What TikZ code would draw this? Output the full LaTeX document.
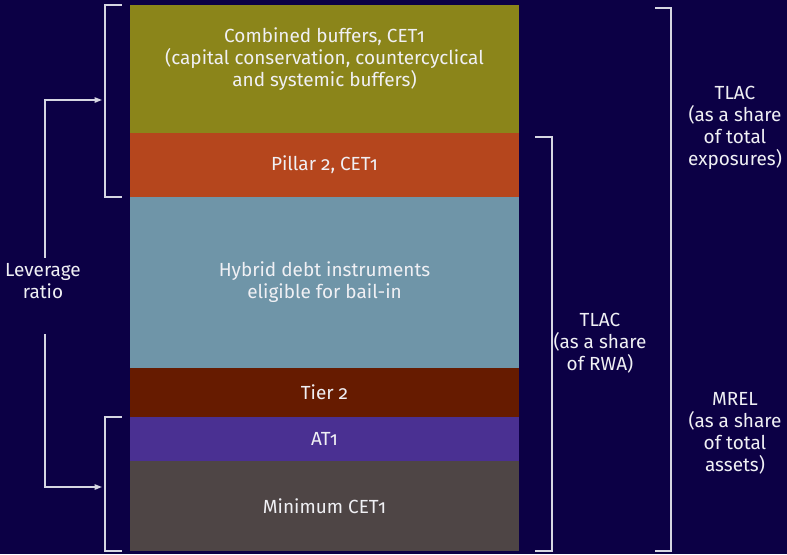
\documentclass[tikz,border=0pt]{standalone}
\usepackage{fontspec}
\setmainfont{Fira Sans}[Numbers=OldStyle]
\usetikzlibrary{arrows.meta,positioning}
\definecolor{ecbnavy}{RGB}{12,0,69}
\definecolor{cbolive}{RGB}{139,133,26}
\definecolor{ptorange}{RGB}{181,70,29}
\definecolor{hybblue}{RGB}{111,149,168}
\definecolor{tiered}{RGB}{102,27,0}
\definecolor{atpurple}{RGB}{74,48,146}
\definecolor{cetgrey}{RGB}{78,69,69}
\definecolor{brkgrey}{RGB}{214,214,226}
\definecolor{txtwhite}{RGB}{240,240,244}

\begin{document}
\begin{tikzpicture}[x=0.03cm,y=-0.03cm,font=\fontsize{16.2}{18.8}\selectfont,node distance=0pt,
    layer/.style={minimum width=11.67cm,inner sep=0pt,outer sep=0pt,align=center,text=txtwhite},
    lbl/.style={align=center,text=txtwhite},
    brk/.style={draw=brkgrey,line width=1.2pt},
    levarrow/.style={brk,-{Triangle[length=2.2mm,width=1.6mm]}}]
  \fill[ecbnavy] (0,0) rectangle (787,554);
  % capital stack
  \node[layer,fill=cbolive,minimum height=3.84cm] (cb) at (324.5,69) {};
  \node[lbl] (cbtext) at ([yshift=0.3cm]cb.center) {Combined buffers, CET1\\(capital conservation, countercyclical\\and systemic buffers)};
  \node[layer,fill=ptorange,minimum height=1.92cm,below=of cb] (p2) {Pillar 2, CET1};
  \node[layer,fill=hybblue,minimum height=5.13cm,below=of p2] (hyb) {Hybrid debt instruments\\eligible for bail-in};
  \node[layer,fill=tiered,minimum height=1.47cm,below=of hyb] (t2) {Tier 2};
  \node[layer,fill=atpurple,minimum height=1.32cm,below=of t2] (at) {AT1};
  \node[layer,fill=cetgrey,minimum height=2.70cm,below=of at] (mc) {Minimum CET1};
  % brackets
  \draw[brk] ([xshift=-0.24cm]cb.north west) -- ++(-17,0) |- ([xshift=-0.24cm]p2.south west);
  \draw[brk] ([xshift=-0.24cm]at.north west) -- ++(-17,0) |- ([xshift=-0.24cm]mc.south west);
  \draw[brk] ([xshift=0.48cm,yshift=-0.12cm]p2.north east) -- ++(17,0) |- ([xshift=0.48cm]mc.south east);
  \draw[brk] ([xshift=4.08cm,yshift=-0.09cm]cb.north east) -- ++(16,0) |- ([xshift=4.08cm]mc.south east);
  % leverage ratio
  \node[lbl] (levtext) at (43,281) {Leverage\\ratio};
  \coordinate (upmid) at (102,100);
  \coordinate (lowmid) at (102,487);
  \draw[levarrow] ([xshift=0.06cm,yshift=0.05cm]levtext.north) |- (upmid);
  \draw[levarrow] ([xshift=0.06cm,yshift=-0.95cm]levtext.south) |- (lowmid);
  % side labels
  \node[lbl] (tlacrwa) at (600,343) {TLAC\\(as a share\\of RWA)};
  \node[lbl] (tlacexp) at (735,128) {TLAC\\(as a share\\of total\\exposures)};
  \node[lbl] (mrel) at (735,433) {MREL\\(as a share\\of total\\assets)};
\end{tikzpicture}
\end{document}
